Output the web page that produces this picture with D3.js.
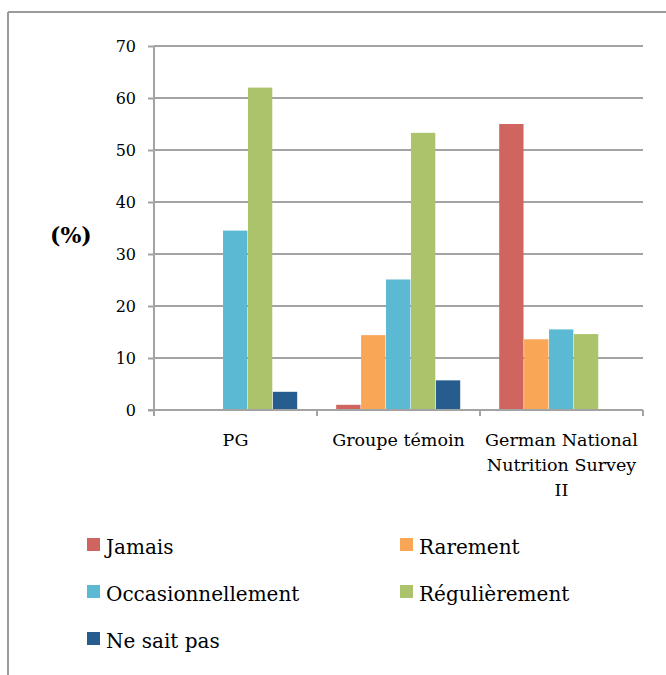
<!DOCTYPE html>
<html>
<head>
<meta charset="utf-8">
<script src="https://cdn.jsdelivr.net/npm/d3@7"></script>
<style>
  html, body { margin: 0; padding: 0; background: #fff; }
  svg { display: block; }
</style>
</head>
<body>
<svg id="chart" width="666" height="675"></svg>
<script>
// Groups compared, one cluster of bars per group
const groups = ["PG", "Groupe témoin", "German National Nutrition Survey II"];
const groupLines = [["PG"], ["Groupe témoin"], ["German National", "Nutrition Survey", "II"]];

// Response categories (one series each)
const seriesNames = ["Jamais", "Rarement", "Occasionnellement", "Régulièrement", "Ne sait pas"];
const seriesColors = ["#CF655E", "#F9A657", "#5CB9D3", "#ABC46B", "#275C8E"];

// Percentages per series, in the order of `groups`
const jamais = [0, 1.0, 55];
const rarement = [0, 14.4, 13.6];
const occasionnellement = [34.5, 25.1, 15.5];
const regulierement = [62, 53.3, 14.6];
const neSaitPas = [3.5, 5.7, 0];
const seriesValues = [jamais, rarement, occasionnellement, regulierement, neSaitPas];

const yTicks = [0, 10, 20, 30, 40, 50, 60, 70];

const FONT = "DejaVu Serif";
const svg = d3.select("#chart");

// Outer frame: top and left edges
svg.append("line").attr("x1", 8).attr("x2", 666).attr("y1", 12).attr("y2", 12)
  .attr("stroke", "#9a9a9a").attr("stroke-width", 2);
svg.append("line").attr("x1", 8).attr("x2", 8).attr("y1", 12).attr("y2", 675)
  .attr("stroke", "#9a9a9a").attr("stroke-width", 2);

const plot = { left: 154, right: 643, top: 46, bottom: 410 };

const x0 = d3.scaleBand().domain(groups).range([plot.left, plot.right]).paddingInner(0).paddingOuter(0);
const x1 = d3.scaleBand().domain(seriesNames).range([0, x0.bandwidth()]).paddingOuter(0.77).paddingInner(0);
const y = d3.scaleLinear().domain([0, 70]).range([plot.bottom, plot.top]);

// Horizontal gridlines
svg.append("g").selectAll("line").data(yTicks.filter(t => t > 0)).join("line")
  .attr("x1", plot.left).attr("x2", plot.right)
  .attr("y1", d => y(d)).attr("y2", d => y(d))
  .attr("stroke", "#a3a3a3").attr("stroke-width", 2);

// Bars
const cluster = svg.append("g").selectAll("g").data(groups).join("g")
  .attr("transform", d => `translate(${x0(d)},0)`);
cluster.selectAll("rect")
  .data((g, gi) => seriesNames.map((s, si) => ({ s, si, v: seriesValues[si][gi] })).filter(d => d.v > 0))
  .join("rect")
  .attr("x", d => x1(d.s))
  .attr("width", x1.bandwidth() - 0.6)
  .attr("y", d => y(d.v))
  .attr("height", d => y(0) - y(d.v))
  .attr("fill", d => seriesColors[d.si]);

// Y axis
const yAxis = d3.axisLeft(y).tickValues(yTicks).tickSize(6).tickPadding(12);
const yg = svg.append("g").attr("transform", `translate(${plot.left},0)`).call(yAxis);
yg.select(".domain").attr("stroke", "#a3a3a3").attr("stroke-width", 2).attr("d", `M0,${plot.top}V${plot.bottom + 5}`);
yg.selectAll(".tick line").attr("stroke", "#a3a3a3").attr("stroke-width", 2);
yg.selectAll(".tick text").attr("font-size", 16).attr("font-family", FONT).attr("fill", "#000");

// X axis baseline with category separators
const xg = svg.append("g");
xg.append("line").attr("x1", plot.left - 6).attr("x2", plot.right).attr("y1", y(0)).attr("y2", y(0))
  .attr("stroke", "#a3a3a3").attr("stroke-width", 2);
const bounds = groups.map(g => x0(g)).concat([plot.right]);
xg.selectAll("line.sep").data(bounds).join("line").attr("class", "sep")
  .attr("x1", d => d).attr("x2", d => d).attr("y1", y(0)).attr("y2", y(0) + 6)
  .attr("stroke", "#a3a3a3").attr("stroke-width", 2);

// Category labels
groups.forEach((g, i) => {
  const cx = x0(g) + x0.bandwidth() / 2;
  const t = svg.append("text").attr("text-anchor", "middle").attr("font-size", 17.5)
    .attr("font-family", FONT).attr("fill", "#000")
    .attr("x", cx).attr("y", 446);
  groupLines[i].forEach((line, li) => {
    t.append("tspan").attr("x", cx).attr("dy", li === 0 ? 0 : 25).text(line);
  });
});

// Y axis title
svg.append("text").attr("x", 50).attr("y", 243).attr("font-size", 22).attr("font-weight", "bold")
  .attr("font-family", FONT).attr("fill", "#000").text("(%)");

// Legend
const legendPos = [[87, 545], [400, 545], [87, 592], [400, 592], [87, 639]];
const legend = svg.append("g").selectAll("g").data(seriesNames).join("g")
  .attr("transform", (d, i) => `translate(${legendPos[i][0]},${legendPos[i][1]})`);
legend.append("rect").attr("x", 0).attr("y", -7).attr("width", 13).attr("height", 13)
  .attr("fill", (d, i) => seriesColors[i]);
legend.append("text").attr("x", 19).attr("y", 9).attr("font-size", 20)
  .attr("font-family", FONT).attr("fill", "#000").text(d => d);
</script>
</body>
</html>
